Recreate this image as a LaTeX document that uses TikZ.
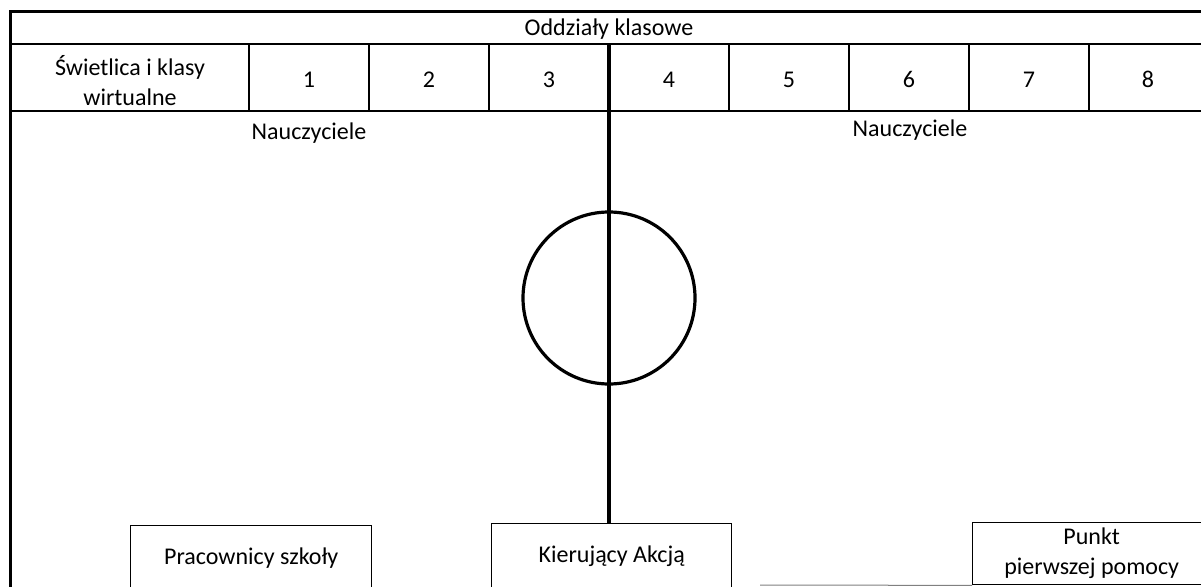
\documentclass[tikz,border=0pt]{standalone}
\usepackage{fontspec}
\setmainfont{Carlito}
\begin{document}
\begin{tikzpicture}[x=1pt,y=-1pt,
  lbl/.style={font=\fontsize{24}{30}\selectfont, inner sep=0pt, align=center},
  num/.style={lbl, anchor=base},
  frameline/.style={line width=3pt},
  gridline/.style={line width=1.8pt},
  axisline/.style={line width=3.2pt},
  ring/.style={circle, draw, line width=3.2pt, inner sep=0pt},
  bbox/.style={draw, line width=1.4pt, inner sep=0pt, align=center, font=\fontsize{24}{30}\selectfont}]
\useasboundingbox (0,0) rectangle (1201,586);
\clip (0,0) rectangle (1201,586);
% frame and table
\draw[frameline] (10,600) -- (10,12) -- (1215,12);
\draw[gridline] (10,44) -- (1215,44);
\draw[gridline] (10,111) -- (1215,111);
\foreach \x in {249,369,489,729,849,969,1089}
  \draw[gridline] (\x,44) -- (\x,111);
\node[lbl] (header) at (609,29) {Oddziały klasowe};
\node[lbl] (c0) at (130,81) {Świetlica i klasy\\wirtualne};
\node[num] (c1) at (309,88) {1};
\node[num] (c2) at (429,88) {2};
\node[num] (c3) at (549,88) {3};
\node[num] (c4) at (669,88) {4};
\node[num] (c5) at (789,88) {5};
\node[num] (c6) at (909,88) {6};
\node[num] (c7) at (1029,88) {7};
\node[num] (c8) at (1148,88) {8};
\node[lbl] (n1) at (309,133) {Nauczyciele};
\node[lbl] (n2) at (910,130) {Nauczyciele};
% circle
\node[ring, minimum size=172pt] (circ) at (609,298) {};
% boxes
\node[bbox, minimum width=241pt, minimum height=64pt, anchor=north west] (prac) at (130,525) {Pracownicy szkoły};
\node[bbox, minimum width=240pt, minimum height=66pt, anchor=north west] (kier) at (491,523) {Kierujący Akcją};
\node[bbox, minimum width=238pt, minimum height=62pt, anchor=north west] (punkt) at (972,522) {Punkt\\pierwszej pomocy};
% central axis
\coordinate (top) at (609,44);
\draw[axisline] (top) -- (kier.north -| top);
% bottom frame fragment
\coordinate (bl) at (760,585);
\draw[line width=1pt, gray] (bl) -- (punkt.south west);
\end{tikzpicture}
\end{document}
